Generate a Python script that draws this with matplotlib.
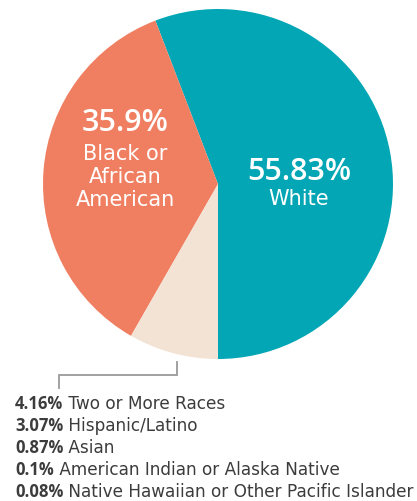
import matplotlib
matplotlib.use('Agg')
import matplotlib.pyplot as plt

# data
main_labels = ['White', 'Black or\nAfrican\nAmerican']
main_values = [55.83, 35.9]
main_text = ['55.83%', '35.9%']
small_labels = ['Two or More Races', 'Hispanic/Latino', 'Asian',
                'American Indian or Alaska Native',
                'Native Hawaiian or Other Pacific Islander']
small_values = [4.16, 3.07, 0.87, 0.1, 0.08]
small_text = ['4.16%', '3.07%', '0.87%', '0.1%', '0.08%']

W, H = 417, 501
plt.rcParams['font.family'] = ['DejaVu Sans']
num_font = ['Open Sans', 'DejaVu Sans']

fig = plt.figure(figsize=(W / 100, H / 100), dpi=100)
ax = fig.add_axes([0, 0, 1, 1])

def py(y):
    # pixel row from the top -> data y
    return H - y

values = main_values + [sum(small_values)]
colors = ['#02a6b4', '#f07f62', '#f3e3d4']
ax.pie(values, colors=colors, startangle=-90, counterclock=True,
       center=(218, py(184)), radius=175, frame=True,
       wedgeprops=dict(linewidth=0))
ax.set_xlim(0, W)
ax.set_ylim(0, H)
ax.set_aspect('auto')
ax.axis('off')

# labels inside the big slices
ax.text(299, py(172), main_text[0], color='white', fontsize=22, weight='semibold',
        family=num_font, ha='center', va='center')
ax.text(299, py(199), main_labels[0], color='white', fontsize=15,
        ha='center', va='center')
ax.text(125, py(123), main_text[1], color='white', fontsize=22, weight='semibold',
        family=num_font, ha='center', va='center')
ax.text(125, py(177), main_labels[1], color='white', fontsize=15,
        ha='center', va='center', linespacing=1.18)

# bracket to the list
ax.plot([177, 177, 59, 59], [py(362), py(375), py(375), py(388)],
        color='#9a9a9a', lw=1.3, solid_joinstyle='miter')

# list of small groups
for i, (t, lab) in enumerate(zip(small_text, small_labels)):
    y = py(404 + i * 22)
    txt = ax.text(15, y, t, color='#3c3c3c', fontsize=12, weight='bold',
                  family=num_font, ha='left', va='center')
    ax.annotate(' ' + lab, xycoords=txt, xy=(1, 0.5), va='center',
                ha='left', color='#3c3c3c', fontsize=12.2)

fig.savefig('out.png', dpi=100)
